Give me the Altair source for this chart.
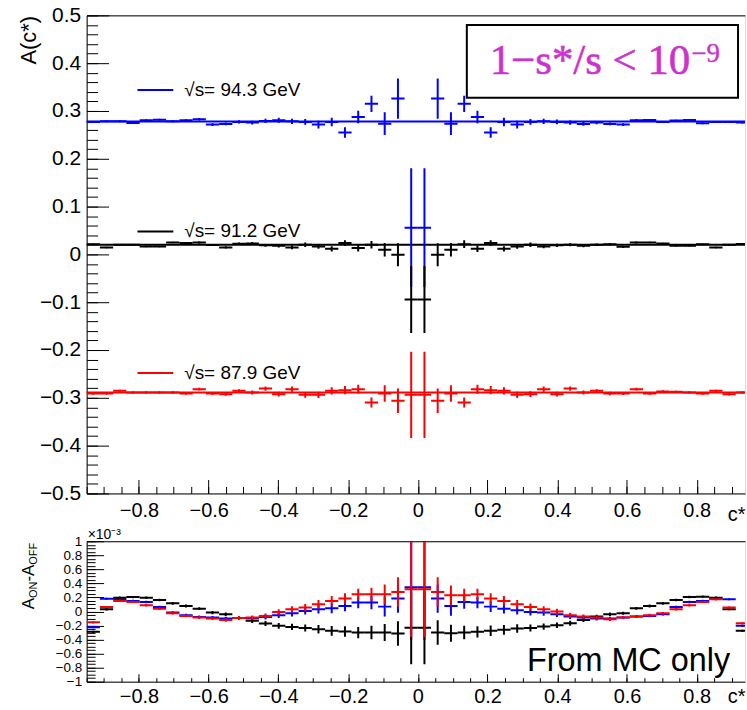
import altair as alt
import pandas as pd

FONT = "Liberation Sans"
SERIF = "Liberation Serif"

SERIES = ["√s= 94.3 GeV", "√s= 91.2 GeV", "√s= 87.9 GeV"]
COLORS = ["#0000ff", "#000000", "#ff0000"]

# bin centres of c*
C = [-0.931, -0.893, -0.855, -0.817, -0.779, -0.741, -0.703, -0.665, -0.627, -0.589,
     -0.551, -0.513, -0.475, -0.437, -0.399, -0.361, -0.323, -0.285, -0.247, -0.209,
     -0.171, -0.133, -0.095, -0.057, -0.019, 0.019, 0.057, 0.095, 0.133, 0.171,
     0.209, 0.247, 0.285, 0.323, 0.361, 0.399, 0.437, 0.475, 0.513, 0.551,
     0.589, 0.627, 0.665, 0.703, 0.741, 0.779, 0.817, 0.855, 0.893, 0.931]
HALF_BIN = 0.019

# fitted constants (top panel)
FIT = [0.2778, 0.0202, -0.2889]

# top panel: A(c*)
A_943 = [0.2771, 0.2785, 0.2785, 0.2750, 0.2806, 0.2819, 0.2785, 0.2806, 0.2826, 0.2715,
         0.2729, 0.2771, 0.2757, 0.2792, 0.2806, 0.2785, 0.2771, 0.2715, 0.2770, 0.2550,
         0.2875, 0.3150, 0.2735, 0.3260, 0.0560, 0.0560, 0.3260, 0.2735, 0.3150, 0.2875,
         0.2550, 0.2770, 0.2715, 0.2770, 0.2785, 0.2771, 0.2757, 0.2729, 0.2757, 0.2729,
         0.2715, 0.2806, 0.2813, 0.2771, 0.2799, 0.2813, 0.2743, 0.2771, 0.2771, 0.2757]
E_943 = [0.002, 0.002, 0.002, 0.002, 0.002, 0.002, 0.002, 0.002, 0.0025, 0.003,
         0.003, 0.0035, 0.004, 0.0045, 0.005, 0.0055, 0.006, 0.008, 0.009, 0.011,
         0.013, 0.017, 0.024, 0.042, 0.124, 0.124, 0.042, 0.024, 0.017, 0.013,
         0.011, 0.009, 0.008, 0.006, 0.0055, 0.005, 0.0045, 0.004, 0.0035, 0.003,
         0.003, 0.0025, 0.002, 0.002, 0.002, 0.002, 0.002, 0.002, 0.002, 0.002]
A_912 = [0.0215, 0.0146, 0.0202, 0.0202, 0.0167, 0.0167, 0.0250, 0.0240, 0.0250, 0.0195,
         0.0146, 0.0225, 0.0230, 0.0190, 0.0180, 0.0146, 0.0202, 0.0167, 0.0118, 0.0236,
         0.0132, 0.0202, 0.0097, -0.0007, -0.0944, -0.0944, -0.0007, 0.0097, 0.0215, 0.0118,
         0.0236, 0.0118, 0.0167, 0.0202, 0.0167, 0.0190, 0.0202, 0.0180, 0.0202, 0.0210,
         0.0160, 0.0250, 0.0250, 0.0230, 0.0180, 0.0180, 0.0210, 0.0146, 0.0202, 0.0220]
E_912 = [0.0015, 0.0015, 0.0015, 0.0015, 0.0015, 0.0015, 0.0015, 0.0015, 0.002, 0.002,
         0.0025, 0.0025, 0.003, 0.003, 0.0035, 0.004, 0.0045, 0.005, 0.0055, 0.006,
         0.007, 0.008, 0.014, 0.024, 0.070, 0.070, 0.024, 0.014, 0.008, 0.007,
         0.006, 0.0055, 0.005, 0.0045, 0.004, 0.0035, 0.003, 0.003, 0.0025, 0.0025,
         0.002, 0.002, 0.0015, 0.0015, 0.0015, 0.0015, 0.0015, 0.0015, 0.0015, 0.0015]
A_879 = [-0.2910, -0.2910, -0.2854, -0.2889, -0.2889, -0.2889, -0.2889, -0.2910, -0.2819, -0.2910,
         -0.2924, -0.2854, -0.2889, -0.2806, -0.2924, -0.2819, -0.2938, -0.2938, -0.2854, -0.2840,
         -0.2819, -0.3097, -0.2910, -0.3063, -0.2938, -0.2938, -0.3063, -0.2910, -0.3097, -0.2819,
         -0.2840, -0.2854, -0.2938, -0.2924, -0.2819, -0.2924, -0.2806, -0.2889, -0.2854, -0.2910,
         -0.2910, -0.2819, -0.2910, -0.2868, -0.2875, -0.2889, -0.2910, -0.2854, -0.2924, -0.2889]
E_879 = [0.0025, 0.0025, 0.0025, 0.0025, 0.0025, 0.0025, 0.0025, 0.0025, 0.003, 0.003,
         0.0035, 0.0035, 0.004, 0.0045, 0.005, 0.0055, 0.006, 0.0065, 0.0075, 0.0085,
         0.0095, 0.0104, 0.0174, 0.0257, 0.090, 0.090, 0.0257, 0.0174, 0.0104, 0.0095,
         0.0085, 0.0075, 0.0065, 0.006, 0.0055, 0.005, 0.0045, 0.004, 0.0035, 0.0035,
         0.003, 0.003, 0.0025, 0.0025, 0.0025, 0.0025, 0.0025, 0.0025, 0.0025, 0.0025]

# bottom panel: A_ON - A_OFF in units of 1e-3
D_943 = [-0.225, 0.180, 0.173, 0.150, 0.135, 0.064, -0.016, -0.054, -0.078, -0.087,
         -0.100, -0.092, -0.100, -0.078, -0.054, -0.025, 0.008, 0.031, 0.045, 0.078,
         0.126, 0.126, 0.069, 0.183, 0.345, 0.345, 0.183, 0.078, 0.135, 0.126,
         0.069, 0.040, 0.017, -0.007, -0.016, -0.040, -0.073, -0.087, -0.100, -0.100,
         -0.087, -0.073, -0.063, -0.040, 0.064, 0.135, 0.150, 0.183, 0.173, -0.205]
D_912 = [-0.290, 0.030, 0.197, 0.206, 0.197, 0.164, 0.116, 0.078, 0.040, -0.016,
         -0.040, -0.092, -0.134, -0.172, -0.205, -0.220, -0.234, -0.253, -0.276, -0.286,
         -0.300, -0.300, -0.300, -0.314, -0.232, -0.232, -0.300, -0.310, -0.300, -0.290,
         -0.276, -0.262, -0.243, -0.234, -0.215, -0.196, -0.167, -0.120, -0.073, -0.040,
         -0.025, 0.045, 0.078, 0.116, 0.164, 0.206, 0.210, 0.197, 0.031, -0.276]
D_879 = [-0.155, 0.064, 0.150, 0.135, 0.088, 0.040, -0.025, -0.063, -0.087, -0.100,
         -0.120, -0.092, -0.087, -0.063, -0.007, 0.031, 0.055, 0.102, 0.150, 0.183,
         0.244, 0.244, 0.244, 0.277, 0.315, 0.315, 0.277, 0.230, 0.230, 0.244,
         0.183, 0.150, 0.102, 0.064, 0.031, -0.002, -0.054, -0.073, -0.087, -0.110,
         -0.087, -0.073, -0.054, -0.025, 0.031, 0.088, 0.135, 0.173, 0.055, -0.167]
DE_943 = [0.015, 0.015, 0.016, 0.016, 0.017, 0.018, 0.019, 0.020, 0.020, 0.022,
          0.025, 0.028, 0.030, 0.035, 0.040, 0.045, 0.050, 0.060, 0.070, 0.075,
          0.080, 0.095, 0.140, 0.200, 0.750, 0.750, 0.200, 0.140, 0.095, 0.080,
          0.075, 0.070, 0.060, 0.050, 0.045, 0.040, 0.035, 0.030, 0.028, 0.025,
          0.022, 0.020, 0.020, 0.019, 0.018, 0.017, 0.016, 0.016, 0.015, 0.015]
DE_912 = [0.015, 0.015, 0.016, 0.016, 0.017, 0.018, 0.019, 0.020, 0.020, 0.022,
          0.025, 0.028, 0.030, 0.035, 0.040, 0.045, 0.050, 0.060, 0.070, 0.075,
          0.080, 0.095, 0.120, 0.175, 0.520, 0.520, 0.175, 0.120, 0.095, 0.080,
          0.075, 0.070, 0.060, 0.050, 0.045, 0.040, 0.035, 0.030, 0.028, 0.025,
          0.022, 0.020, 0.020, 0.019, 0.018, 0.017, 0.016, 0.016, 0.015, 0.015]
DE_879 = [0.015, 0.015, 0.016, 0.016, 0.017, 0.018, 0.019, 0.020, 0.020, 0.022,
          0.025, 0.028, 0.030, 0.035, 0.040, 0.045, 0.050, 0.060, 0.070, 0.075,
          0.080, 0.095, 0.140, 0.210, 0.680, 0.680, 0.210, 0.140, 0.095, 0.080,
          0.075, 0.070, 0.060, 0.050, 0.045, 0.040, 0.035, 0.030, 0.028, 0.025,
          0.022, 0.020, 0.020, 0.019, 0.018, 0.017, 0.016, 0.016, 0.015, 0.015]

# axis ticks
X_MAJOR = [-0.8, -0.6, -0.4, -0.2, 0.0, 0.2, 0.4, 0.6, 0.8]
X_MINOR = [round(-0.95 + 0.05 * i, 2) for i in range(38)]
Y1_MAJOR = [-0.5, -0.4, -0.3, -0.2, -0.1, 0.0, 0.1, 0.2, 0.3, 0.4, 0.5]
Y1_MINOR = [round(-0.5 + 0.02 * i, 2) for i in range(51)]
Y2_MAJOR = [-1.0, -0.8, -0.6, -0.4, -0.2, 0.0, 0.2, 0.4, 0.6, 0.8, 1.0]
Y2_MINOR = [round(-1.0 + 0.05 * i, 2) for i in range(41)]


def make_table(vals_list, errs_list):
    rows = []
    for name, vals, errs in zip(SERIES, vals_list, errs_list):
        for c, v, e in zip(C, vals, errs):
            rows.append({"s": name, "c": c, "x0": c - HALF_BIN, "x1": c + HALF_BIN,
                         "v": v, "lo": v - e, "hi": v + e})
    return pd.DataFrame(rows)


W = 661
H1 = 480
H2 = 141
XMAX = -0.95 + W / 350.0

cs = alt.Scale(domain=SERIES, range=COLORS)
xs = alt.Scale(domain=[-0.95, XMAX], nice=False, zero=False)
y1s = alt.Scale(domain=[-0.5, 0.5], nice=False, zero=False)
y2s = alt.Scale(domain=[-1.0, 1.0], nice=False, zero=False)
col = alt.Color("s:N", scale=cs, legend=None)


def tick_axis(orient, values, size):
    return alt.Axis(orient=orient, values=values, ticks=True, tickSize=size, tickWidth=1,
                    tickColor="black", offset=-size, labels=False, domain=False,
                    grid=False, title=None)


def x_main(label_pad, title_y):
    return alt.Axis(orient="bottom", values=X_MAJOR, format="~g", ticks=False, tickSize=0,
                    domain=True, domainColor="black", domainWidth=1, grid=False,
                    labelFont=FONT, labelFontSize=20, labelColor="black",
                    labelPadding=label_pad, labelFlush=False, labelOverlap=False,
                    title="c*", titleFont=FONT, titleFontSize=20, titleFontWeight="normal",
                    titleColor="black", titleX=W, titleY=title_y, titleAlign="right",
                    titleBaseline="alphabetic", titleAngle=0)


def frame_layer(base):
    return base.mark_point(opacity=0).encode(
        x=alt.X("c:Q", scale=xs, axis=alt.Axis(orient="top", ticks=False, labels=False,
                                               domain=True, domainColor="black",
                                               grid=False, title=None)))


def one(**kw):
    return alt.Chart(pd.DataFrame({k: [v] for k, v in kw.items()}))


# ---------------- top panel ----------------
top_df = make_table([A_943, A_912, A_879], [E_943, E_912, E_879])
tb = alt.Chart(top_df)

y1_main = alt.Axis(orient="left", values=Y1_MAJOR, format="~g", ticks=False, tickSize=0,
                   domain=True, domainColor="black", domainWidth=1, grid=False,
                   labelFont=FONT, labelFontSize=21, labelColor="black", labelPadding=6,
                   labelFlush=False, labelOverlap=False,
                   title="A(c*)", titleFont=FONT, titleFontSize=22, titleFontWeight="normal",
                   titleColor="black", titleAngle=270, titleX=-51, titleY=0,
                   titleAlign="right", titleBaseline="alphabetic")

legend = alt.Legend(orient="none", legendX=50, legendY=56, title=None, direction="vertical",
                    symbolType="stroke", symbolSize=1296, symbolStrokeWidth=2,
                    labelFont=FONT, labelFontSize=19, labelColor="black", labelOffset=10,
                    rowPadding=113, padding=0, labelLimit=400)

fit_top = alt.Chart(pd.DataFrame({"s": SERIES, "fit": FIT})).mark_rule(strokeWidth=2).encode(
    y=alt.Y("fit:Q", scale=y1s, axis=None),
    color=alt.Color("s:N", scale=cs, legend=legend))
hbar_top = tb.mark_rule(strokeWidth=2, clip=True).encode(
    x=alt.X("x0:Q", scale=xs, axis=x_main(7, 27)), x2="x1:Q",
    y=alt.Y("v:Q", scale=y1s, axis=y1_main), color=col)
vbar_top = tb.mark_rule(strokeWidth=2, clip=True).encode(
    x=alt.X("c:Q", scale=xs, axis=None),
    y=alt.Y("lo:Q", scale=y1s, axis=None), y2="hi:Q", color=col)
major_top = tb.mark_point(opacity=0).encode(
    x=alt.X("c:Q", scale=xs, axis=tick_axis("bottom", X_MAJOR, 14)),
    y=alt.Y("v:Q", scale=y1s, axis=tick_axis("left", Y1_MAJOR, 22)))
minor_top = tb.mark_point(opacity=0).encode(
    x=alt.X("c:Q", scale=xs, axis=tick_axis("bottom", X_MINOR, 7)),
    y=alt.Y("v:Q", scale=y1s, axis=tick_axis("left", Y1_MINOR, 11)))

box = one(k=0).mark_rect(fill="white", stroke="black", strokeWidth=2).encode(
    x=alt.value(381.7), x2=alt.value(654), y=alt.value(9.7), y2=alt.value(82.7))
cut_text = one(t="1−s*/s < 10").mark_text(
    font=SERIF, fontSize=43, color="#cc33cc", align="right", baseline="alphabetic",
    stroke="#cc33cc", strokeWidth=0.6).encode(
    x=alt.value(606), y=alt.value(59), text="t:N")
cut_sup = one(t="−9").mark_text(
    font=SERIF, fontSize=27, color="#cc33cc", align="left", baseline="alphabetic",
    stroke="#cc33cc", strokeWidth=0.4).encode(
    x=alt.value(607), y=alt.value(47), text="t:N")

top = alt.layer(fit_top, hbar_top, vbar_top, major_top, minor_top, frame_layer(tb),
                box, cut_text, cut_sup).resolve_axis(
    x="independent", y="independent").properties(width=W, height=H1)

# ---------------- bottom panel ----------------
bot_df = make_table([D_943, D_912, D_879], [DE_943, DE_912, DE_879])
bb = alt.Chart(bot_df)

y2_main = alt.Axis(orient="left", values=Y2_MAJOR, format="~g", ticks=False, tickSize=0,
                   domain=True, domainColor="black", domainWidth=1, grid=False,
                   labelFont=FONT, labelFontSize=13.5, labelColor="black", labelPadding=5,
                   labelFlush=False, labelOverlap=False, title=None)

hbar_bot = bb.mark_rule(strokeWidth=2, clip=True).encode(
    x=alt.X("x0:Q", scale=xs, axis=x_main(5, 21)), x2="x1:Q",
    y=alt.Y("v:Q", scale=y2s, axis=y2_main), color=col)
vbar_bot = bb.mark_rule(strokeWidth=2, clip=True).encode(
    x=alt.X("c:Q", scale=xs, axis=None),
    y=alt.Y("lo:Q", scale=y2s, axis=None), y2="hi:Q", color=col)
major_bot = bb.mark_point(opacity=0).encode(
    x=alt.X("c:Q", scale=xs, axis=tick_axis("bottom", X_MAJOR, 8)),
    y=alt.Y("v:Q", scale=y2s, axis=tick_axis("left", Y2_MAJOR, 17)))
minor_bot = bb.mark_point(opacity=0).encode(
    x=alt.X("c:Q", scale=xs, axis=tick_axis("bottom", X_MINOR, 4)),
    y=alt.Y("v:Q", scale=y2s, axis=tick_axis("left", Y2_MINOR, 8.5)))


def txt(t, x, y, size, angle=0, align="left"):
    return one(t=t).mark_text(font=FONT, fontSize=size, color="black", align=align,
                              baseline="alphabetic", angle=angle).encode(
        x=alt.value(x), y=alt.value(y), text="t:N")


exp_lbl = txt("×10⁻³", 1, -2, 14)
mc_lbl = txt("From MC only", 646, 130, 32.5, align="right")
t_a1 = txt("A", -53, 68.3, 17, angle=270)
t_on = txt("ON", -49.5, 57, 11, angle=270)
t_dash = txt("-", -53, 40.5, 17, angle=270)
t_a2 = txt("A", -53, 34.8, 17, angle=270)
t_off = txt("OFF", -49.5, 23.5, 11, angle=270)

bottom = alt.layer(hbar_bot, vbar_bot, major_bot, minor_bot, frame_layer(bb),
                   exp_lbl, mc_lbl, t_a1, t_on, t_dash, t_a2, t_off).resolve_axis(
    x="independent", y="independent").properties(width=W, height=H2)

chart = alt.vconcat(top, bottom, spacing=2).properties(
    padding={"left": 17, "top": 2, "right": 0, "bottom": 0},
    background="white").configure_view(stroke=None).configure(font=FONT)

chart.save("out.html", embed_options={"renderer": "svg", "actions": False})
